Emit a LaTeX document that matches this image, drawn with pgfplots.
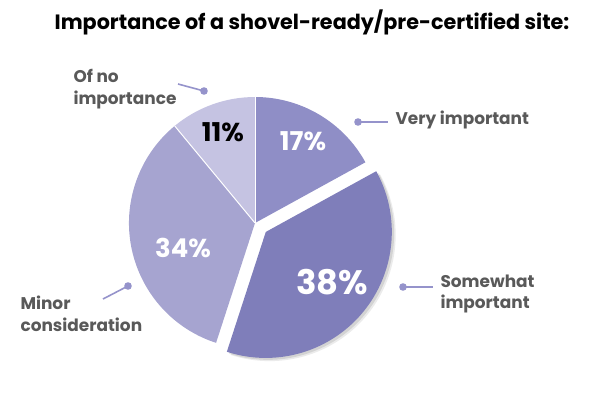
\documentclass[border=0pt]{standalone}
\usepackage{fontspec}
\setmainfont{Poppins}
\usepackage{pgfplots}
\usepackage{pgfplotstable}
\pgfplotsset{compat=1.18}
\definecolor{cVery}{HTML}{8F8EC6}
\definecolor{cSome}{HTML}{7F7EBA}
\definecolor{cMinor}{HTML}{A6A4D0}
\definecolor{cNone}{HTML}{C5C3E2}
\definecolor{cLine}{HTML}{9593CB}
\definecolor{cText}{HTML}{595959}

\pgfplotstableread{
label pct
Very 17
Somewhat 38
Minor 34
None 11
}\piedata

\pgfplotstablegetelem{0}{pct}\of\piedata \let\pA\pgfplotsretval
\pgfplotstablegetelem{1}{pct}\of\piedata \let\pB\pgfplotsretval
\pgfplotstablegetelem{2}{pct}\of\piedata \let\pC\pgfplotsretval
\pgfplotstablegetelem{3}{pct}\of\piedata \let\pD\pgfplotsretval
\pgfmathsetmacro\aA{90}
\pgfmathsetmacro\aB{\aA-3.6*\pA}
\pgfmathsetmacro\aC{\aB-3.6*\pB}
\pgfmathsetmacro\aD{\aC-3.6*\pC}
\pgfmathsetmacro\aE{\aD-3.6*\pD}
\pgfmathsetmacro\mB{(\aB+\aC)/2}

\newcommand\pieslice[4]{%
  \fill[#3] (axis cs:255,170) ++(\mB:#4) -- ++(#1:126bp)
    arc[start angle=#1,end angle=#2,radius=126bp] -- cycle;}

\begin{document}
\begin{tikzpicture}
\begin{axis}[
  width=600bp, height=393bp, scale only axis,
  xmin=0, xmax=600, ymin=0, ymax=393,
  hide axis, clip=false]
\path (axis cs:0,0) rectangle (axis cs:600,393);
% shadow of exploded slice
\begin{scope}[opacity=0.10]
\pieslice{\aB}{\aC}{black}{17bp}
\end{scope}
\begin{scope}[opacity=0.08]
\pieslice{\aB}{\aC}{black}{19bp}
\end{scope}
\pieslice{\aA}{\aB}{cVery}{0bp}
\pieslice{\aC}{\aD}{cMinor}{0bp}
\pieslice{\aD}{\aE}{cNone}{0bp}
\pieslice{\aB}{\aC}{cSome}{14bp}
\draw[white, line width=1bp] (axis cs:255,170) -- ++(\aD:126bp);
\draw[white, line width=1bp] (axis cs:255,170) -- ++(\aA:126bp);
% percentages
\node[white, font=\fontsize{26}{26}\selectfont\bfseries] at (axis cs:303,252) {17\%};
\node[black, font=\fontsize{26}{26}\selectfont\bfseries] at (axis cs:223,261) {11\%};
\node[white, font=\fontsize{26}{26}\selectfont\bfseries] at (axis cs:183,145) {34\%};
\node[white, font=\fontsize{34}{34}\selectfont\bfseries] at (axis cs:332,111) {38\%};
% connectors
\draw[cLine, line width=1.6bp] (axis cs:358,271) -- (axis cs:388,271);
\fill[cLine] (axis cs:358,271) circle[radius=3.8bp];
\draw[cLine, line width=1.6bp] (axis cs:403,106) -- (axis cs:433,106);
\fill[cLine] (axis cs:403,106) circle[radius=3.8bp];
\draw[cLine, line width=1.6bp] (axis cs:128,107) -- (axis cs:103,94);
\fill[cLine] (axis cs:128,107) circle[radius=3.8bp];
\draw[cLine, line width=1.6bp] (axis cs:204,302) -- (axis cs:178,309);
\fill[cLine] (axis cs:204,302) circle[radius=3.8bp];
% labels
\node[cText, anchor=west, font=\fontsize{17}{21}\selectfont\bfseries] at (axis cs:392,273) {Very important};
\node[cText, anchor=west, align=left, font=\fontsize{17}{22}\selectfont\bfseries] at (axis cs:437,99) {Somewhat\\important};
\node[cText, anchor=west, align=left, font=\fontsize{17}{22}\selectfont\bfseries] at (axis cs:17,79) {Minor\\consideration};
\node[cText, anchor=west, align=left, font=\fontsize{17}{22}\selectfont\bfseries] at (axis cs:70,304) {Of no\\importance};
% title
\node[black, font=\fontsize{20.8}{24}\selectfont\bfseries] at (axis cs:312,371) {Importance of a shovel-ready/pre-certified site:};
\end{axis}
\end{tikzpicture}
\end{document}
